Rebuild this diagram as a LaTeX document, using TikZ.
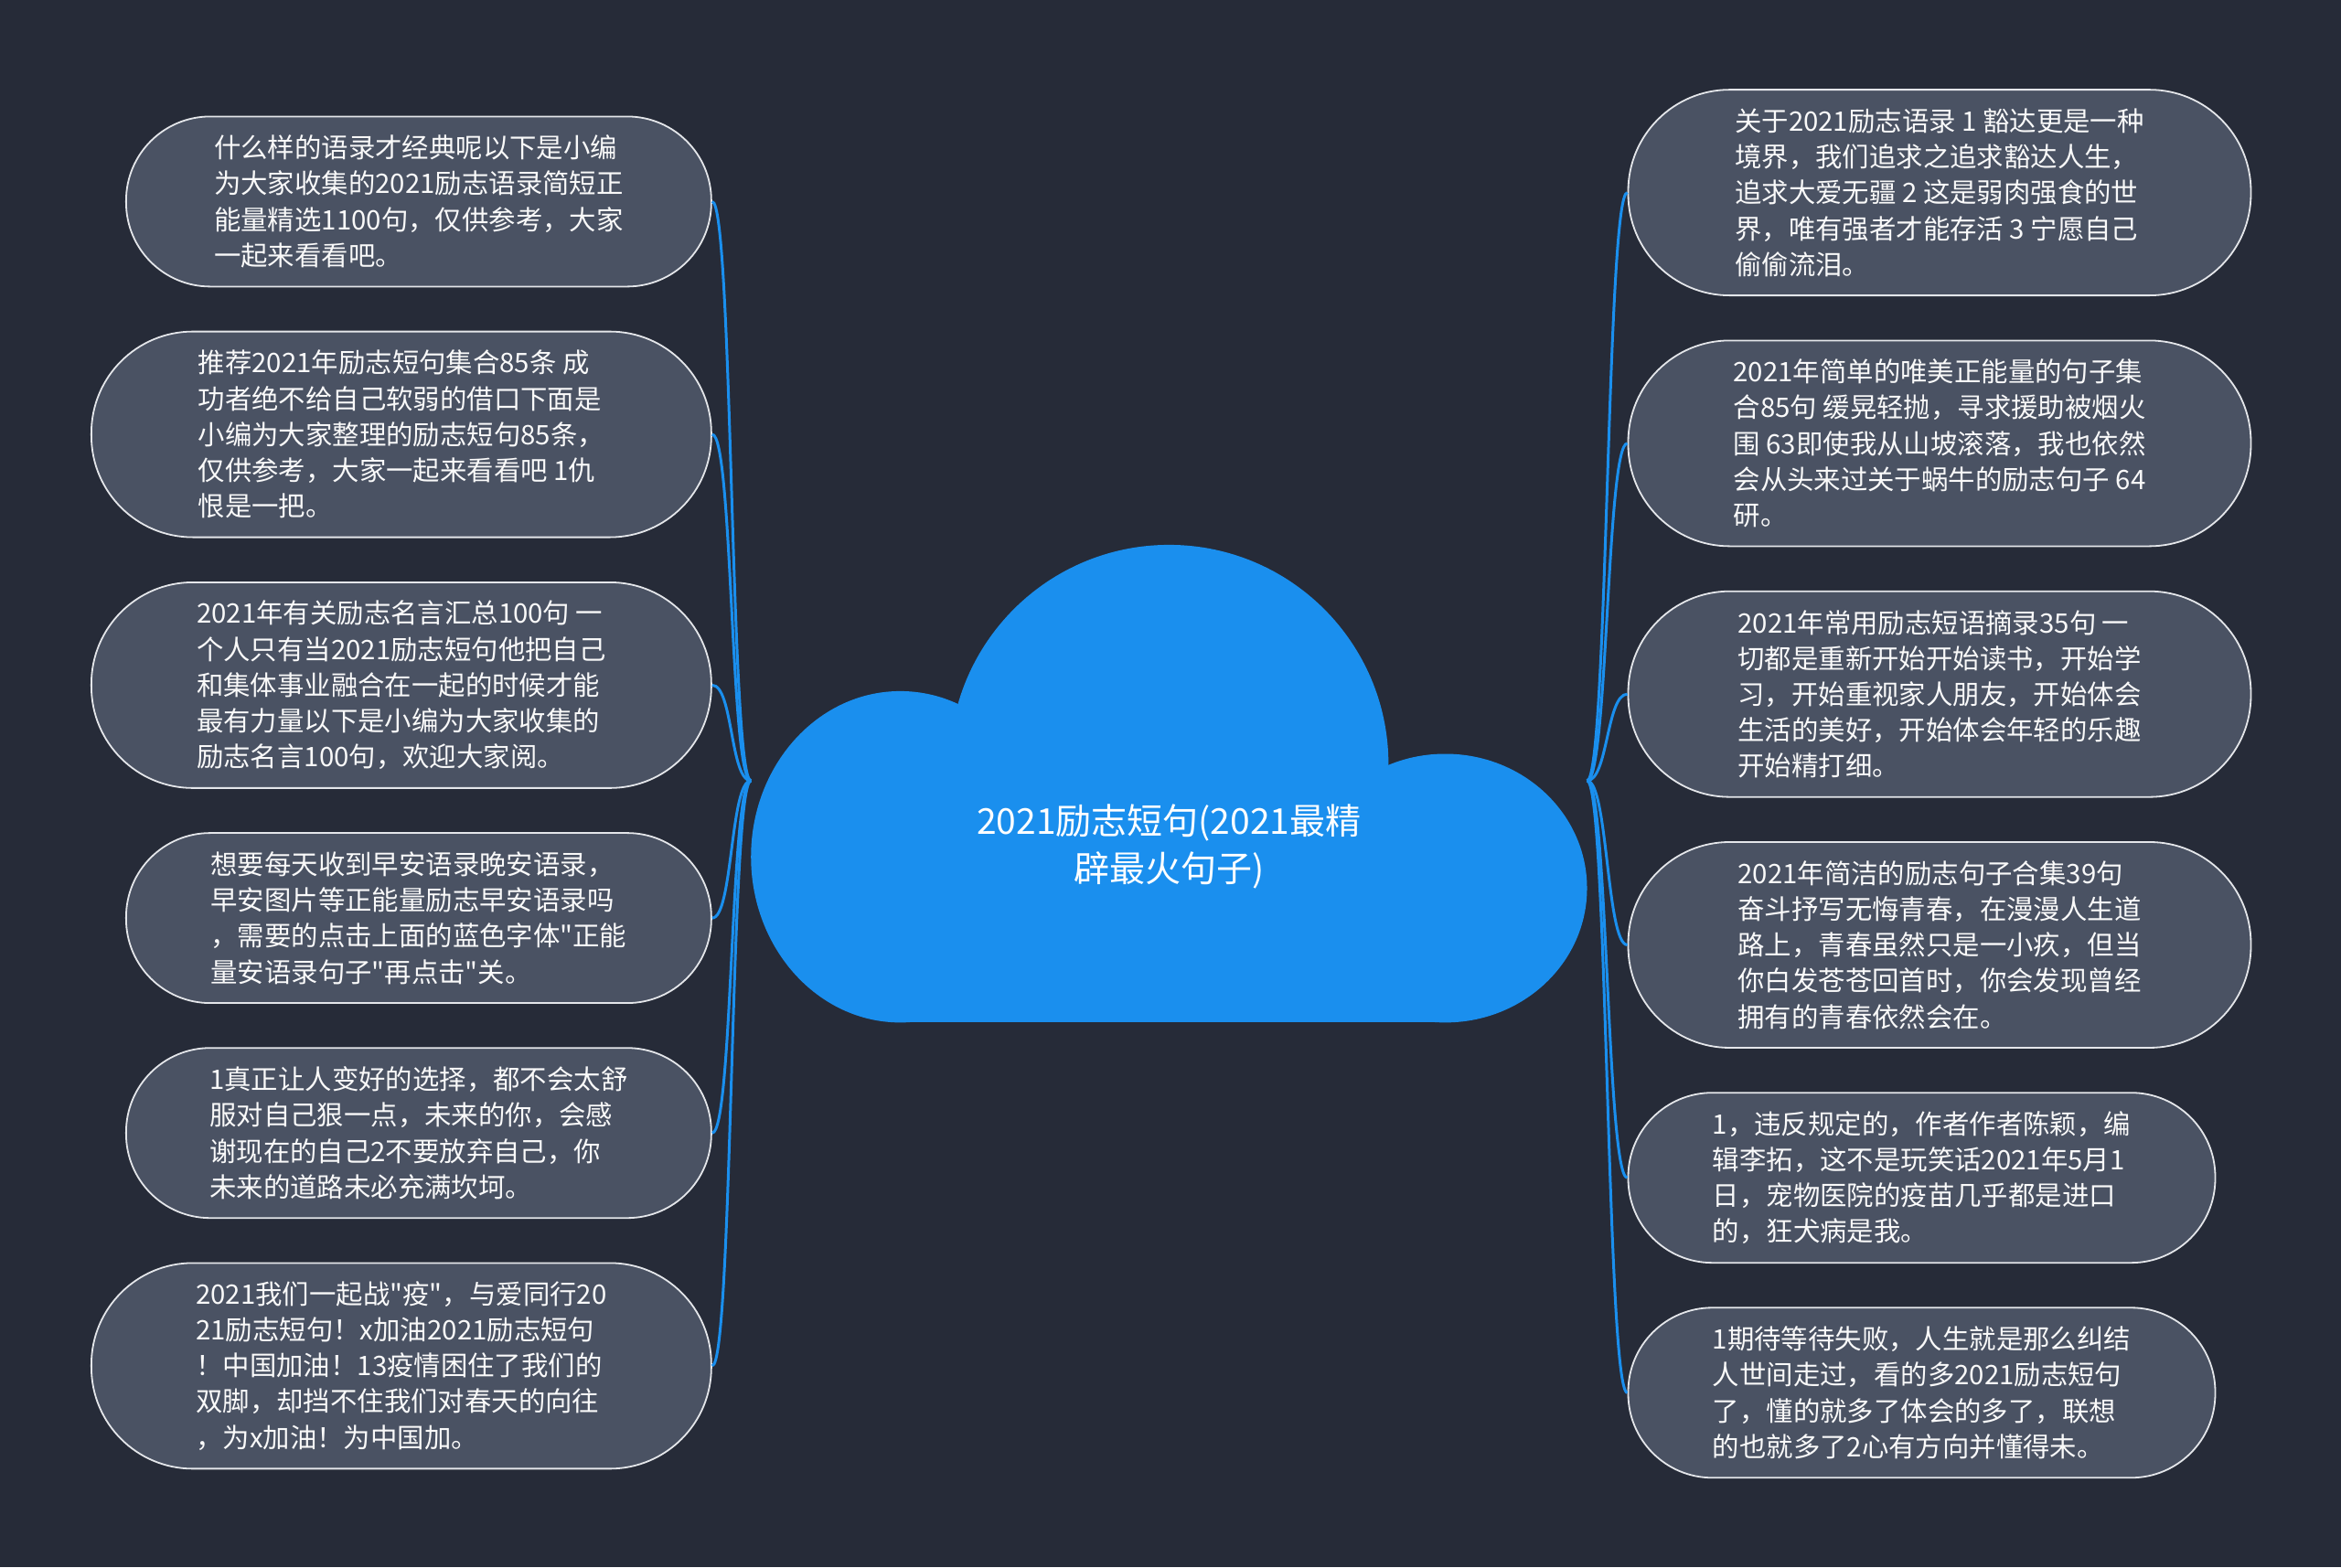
\documentclass[tikz,border=0pt]{standalone}
\usepackage{fontspec}
\usepackage{tikz}
\setmainfont{Noto Sans CJK SC}[Ligatures=TeXOff]
\definecolor{bgcol}{HTML}{262B38}
\definecolor{boxcol}{HTML}{4A5263}
\definecolor{cloudcol}{HTML}{1A8FEE}
\definecolor{edgecol}{HTML}{E4E6EA}
\tikzset{
  leaf/.style={draw=edgecol, fill=boxcol, line width=1.8pt, text=white!95!gray,
    align=left, inner sep=0pt, font=\fontsize{29.4pt}{39.2pt}\selectfont},
  shortleaf/.style={leaf, minimum height=186pt, rounded corners=92pt},
  tallleaf/.style={leaf, minimum height=225pt, rounded corners=111pt},
  link/.style={draw=cloudcol, line width=3pt},
}
\begin{document}
\begin{tikzpicture}[x=1.6327pt,y=-1.6327pt]
\useasboundingbox (0,0) rectangle (1568,1050);
% background:
\path[fill=bgcol] (0,0) rectangle (1568,1050);
\coordinate (cl) at (503,523);
\coordinate (cr) at (1063,523);
% leaves, left:
\node[shortleaf, minimum width=640pt, anchor=east] (l1) at (477,135) {什么样的语录才经典呢以下是小编\\为大家收集的2021励志语录简短正\\能量精选1100句，仅供参考，大家\\一起来看看吧。};
\node[tallleaf, minimum width=678pt, anchor=east] (l2) at (477,291) {推荐2021年励志短句集合85条 成\\功者绝不给自己软弱的借口下面是\\小编为大家整理的励志短句85条，\\仅供参考，大家一起来看看吧 1仇\\恨是一把。};
\node[tallleaf, minimum width=678pt, anchor=east] (l3) at (477,459) {2021年有关励志名言汇总100句 一\\个人只有当2021励志短句他把自己\\和集体事业融合在一起的时候才能\\最有力量以下是小编为大家收集的\\励志名言100句，欢迎大家阅。};
\node[shortleaf, minimum width=640pt, anchor=east] (l4) at (477,615) {想要每天收到早安语录晚安语录，\\早安图片等正能量励志早安语录吗\\，需要的点击上面的蓝色字体"正能\\量安语录句子"再点击"关。};
\node[shortleaf, minimum width=640pt, anchor=east] (l5) at (477,759) {1真正让人变好的选择，都不会太舒\\服对自己狠一点，未来的你，会感\\谢现在的自己2不要放弃自己，你\\未来的道路未必充满坎坷。};
\node[tallleaf, minimum width=678pt, anchor=east] (l6) at (477,915) {2021我们一起战"疫"，与爱同行20\\21励志短句！x加油2021励志短句\\！中国加油！13疫情困住了我们的\\双脚，却挡不住我们对春天的向往\\，为x加油！为中国加。};
% leaves, right:
\node[tallleaf, minimum width=681pt, anchor=west] (r1) at (1090,129) {关于2021励志语录 1 豁达更是一种\\境界，我们追求之追求豁达人生，\\追求大爱无疆 2 这是弱肉强食的世\\界，唯有强者才能存活 3 宁愿自己\\偷偷流泪。};
\node[tallleaf, minimum width=681pt, anchor=west] (r2) at (1090,297) {2021年简单的唯美正能量的句子集\\合85句 缓晃轻抛，寻求援助被烟火\\围 63即使我从山坡滚落，我也依然\\会从头来过关于蜗牛的励志句子 64\\研。};
\node[tallleaf, minimum width=681pt, anchor=west] (r3) at (1090,465) {2021年常用励志短语摘录35句 一\\切都是重新开始开始读书，开始学\\习，开始重视家人朋友，开始体会\\生活的美好，开始体会年轻的乐趣\\开始精打细。};
\node[tallleaf, minimum width=681pt, anchor=west] (r4) at (1090,633) {2021年简洁的励志句子合集39句\\奋斗抒写无悔青春，在漫漫人生道\\路上，青春虽然只是一小疚，但当\\你白发苍苍回首时，你会发现曾经\\拥有的青春依然会在。};
\node[shortleaf, minimum width=642pt, anchor=west] (r5) at (1090,789) {1，违反规定的，作者作者陈颖，编\\辑李拓，这不是玩笑话2021年5月1\\日，宠物医院的疫苗几乎都是进口\\的，狂犬病是我。};
\node[shortleaf, minimum width=642pt, anchor=west] (r6) at (1090,933) {1期待等待失败，人生就是那么纠结\\人世间走过，看的多2021励志短句\\了，懂的就多了体会的多了，联想\\的也就多了2心有方向并懂得未。};
% connectors:
\foreach \n in {l1,l2,l3,l4,l5,l6}
  \draw[link] (cl) .. controls +(-14,0) and +(14,0) .. (\n.east);
\foreach \n in {r1,r2,r3,r4,r5,r6}
  \draw[link] (cr) .. controls +(14,0) and +(-14,0) .. (\n.west);
% cloud:
\path[fill=cloudcol] (783,512) circle[radius=147];
\path[fill=cloudcol] (603,574) ellipse[x radius=100, y radius=111];
\path[fill=cloudcol] (968,595) ellipse[x radius=95, y radius=90];
\path[fill=cloudcol] (603,560) rectangle (968,685);
\node[text=white, align=center, font=\fontsize{39pt}{52pt}\selectfont] (root) at (783,567) {2021励志短句(2021最精\\辟最火句子)};
\end{tikzpicture}
\end{document}
